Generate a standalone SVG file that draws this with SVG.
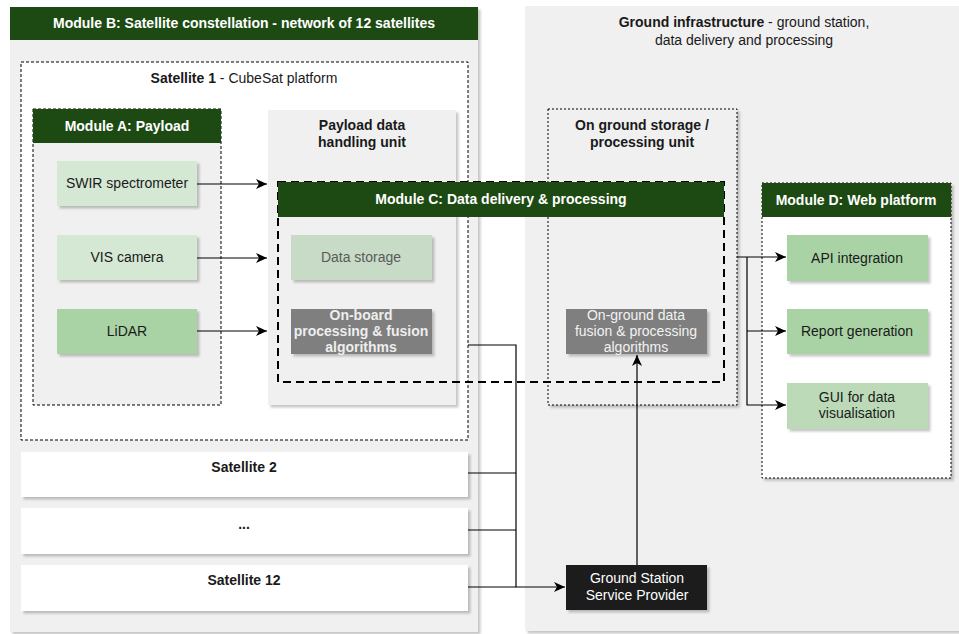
<svg xmlns="http://www.w3.org/2000/svg" width="959" height="634" viewBox="0 0 959 634">
<defs>
<filter id="sh" x="-10%" y="-10%" width="130%" height="130%"><feDropShadow dx="2.5" dy="2.5" stdDeviation="0.8" flood-color="#000" flood-opacity="0.22"/></filter>
<marker id="ah" markerWidth="12" markerHeight="10" refX="11" refY="5" orient="auto" markerUnits="userSpaceOnUse"><path d="M0,0 L11,5 L0,10 L3,5 Z" fill="#000"/></marker>
</defs>
<style>
text{font-family:"Liberation Sans",Arial,sans-serif;font-size:14px;fill:#1a1a1a;text-anchor:middle}
.b{font-weight:bold}
.w{fill:#fff}
.hd{fill:#1d4a13}
.panel{fill:#f0f0f0}
.dash{stroke:#000;stroke-width:1;stroke-dasharray:3 2}
.dot{stroke:#000;stroke-width:1;stroke-dasharray:2 2}
.lg{fill:#d5e8d4}
.mg{fill:#a9d3a4}
.gr{fill:#7f7f7f}
.conn path{fill:none;stroke:#000;stroke-width:1.2}
</style>

<g id="moduleB">
<rect x="10" y="7" width="468" height="625" class="panel" filter="url(#sh)"/>
<rect x="10" y="7" width="468" height="33" class="hd"/>
<text x="244" y="28" class="b w">Module B: Satellite constellation - network of 12 satellites</text>
</g>

<g id="ground">
<rect x="525" y="6" width="440" height="625" class="panel" filter="url(#sh)"/>
<text x="744" y="27"><tspan class="b">Ground infrastructure</tspan> - ground station,</text>
<text x="744" y="45">data delivery and processing</text>
</g>

<g id="satellite1">
<rect x="21" y="62" width="447" height="378" fill="#fff" class="dash"/>
<text x="244" y="83"><tspan class="b">Satellite 1</tspan> - CubeSat platform</text>
</g>

<g id="moduleA">
<rect x="33" y="109" width="188" height="296" class="panel dash"/>
<rect x="33" y="109" width="188" height="34" class="hd"/>
<text x="127" y="131" class="b w">Module A: Payload</text>
</g>

<g id="swir">
<rect x="57" y="161" width="140" height="45" class="lg" filter="url(#sh)"/>
<text x="127" y="188">SWIR spectrometer</text>
</g>
<g id="vis">
<rect x="57" y="235" width="140" height="45" class="lg" filter="url(#sh)"/>
<text x="127" y="262">VIS camera</text>
</g>
<g id="lidar">
<rect x="57" y="309" width="140" height="45" class="mg" filter="url(#sh)"/>
<text x="127" y="336">LiDAR</text>
</g>

<g id="pdhu">
<rect x="268" y="110" width="188" height="295" class="panel" filter="url(#sh)"/>
<text x="362" y="130" class="b">Payload data</text>
<text x="362" y="147" class="b">handling unit</text>
</g>

<g id="groundStorage">
<rect x="548" y="109" width="189" height="296" class="panel dot" filter="url(#sh)"/>
<text x="642" y="130" class="b">On ground storage /</text>
<text x="642" y="147" class="b">processing unit</text>
</g>

<g id="moduleC">
<rect x="278" y="182" width="446" height="200" fill="none" stroke="#000" stroke-width="2" stroke-dasharray="8 5"/>
<rect x="278" y="182" width="446" height="35" class="hd"/>
<text x="501" y="204" class="b w">Module C: Data delivery &amp; processing</text>
</g>

<g id="dataStorage">
<rect x="291" y="235" width="141" height="45" fill="#c7dbc6" filter="url(#sh)"/>
<text x="361" y="262" style="fill:#5a5a5a">Data storage</text>
</g>
<g id="onboard">
<rect x="291" y="309" width="141" height="45" class="gr" filter="url(#sh)"/>
<text x="361" y="320" class="b" style="fill:#eeeeee">On-board</text>
<text x="361" y="336" class="b" style="fill:#eeeeee">processing &amp; fusion</text>
<text x="361" y="352" class="b" style="fill:#eeeeee">algorithms</text>
</g>
<g id="onground">
<rect x="566" y="309" width="141" height="45" class="gr" filter="url(#sh)"/>
<text x="636" y="320" style="fill:#f2f2f2">On-ground data</text>
<text x="636" y="336" style="fill:#f2f2f2">fusion &amp; processing</text>
<text x="636" y="352" style="fill:#f2f2f2">algorithms</text>
</g>

<g id="moduleD">
<rect x="762" y="183" width="189" height="295" fill="#fff" class="dot" filter="url(#sh)"/>
<rect x="762" y="183" width="189" height="34" class="hd"/>
<text x="856" y="205" class="b w">Module D: Web platform</text>
</g>
<g id="api">
<rect x="787" y="235" width="141" height="46" class="mg" filter="url(#sh)"/>
<text x="857" y="263">API integration</text>
</g>
<g id="report">
<rect x="787" y="309" width="141" height="45" class="mg" filter="url(#sh)"/>
<text x="857" y="336">Report generation</text>
</g>
<g id="gui">
<rect x="787" y="383" width="141" height="46" fill="#bcdab8" filter="url(#sh)"/>
<text x="857" y="402">GUI for data</text>
<text x="857" y="418">visualisation</text>
</g>

<g id="satellite2">
<rect x="21" y="452" width="447" height="45" fill="#fff" filter="url(#sh)"/>
<text x="244" y="472" class="b">Satellite 2</text>
</g>
<g id="satelliteDots">
<rect x="21" y="508" width="447" height="46" fill="#fff" filter="url(#sh)"/>
<text x="244" y="529" class="b">...</text>
</g>
<g id="satellite12">
<rect x="21" y="565" width="447" height="46" fill="#fff" filter="url(#sh)"/>
<text x="244" y="585" class="b">Satellite 12</text>
</g>

<g id="groundStation">
<rect x="566" y="565" width="141" height="45" fill="#1a1a1a" filter="url(#sh)"/>
<text x="637" y="583" class="w">Ground Station</text>
<text x="637" y="600" class="w">Service Provider</text>
</g>

<g id="connectors" class="conn">
<path d="M197,184 H267" marker-end="url(#ah)"/>
<path d="M197,258 H267" marker-end="url(#ah)"/>
<path d="M197,331 H267" marker-end="url(#ah)"/>
<path d="M468,345 H516 V587 H565" marker-end="url(#ah)"/>
<path d="M468,473 H516"/>
<path d="M468,530 H516"/>
<path d="M468,587 H516"/>
<path d="M637,565 V355" marker-end="url(#ah)"/>
<path d="M737,257 H786" marker-end="url(#ah)"/>
<path d="M747,257 V405 H786" marker-end="url(#ah)"/>
<path d="M747,331 H786" marker-end="url(#ah)"/>
</g>
</svg>
